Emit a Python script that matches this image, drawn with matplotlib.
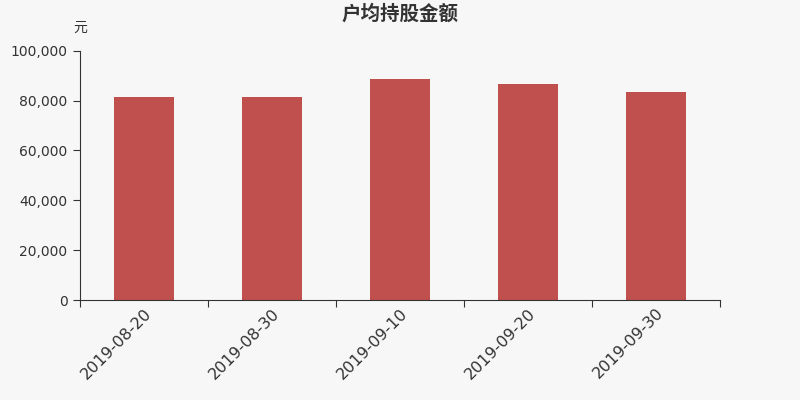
import matplotlib
matplotlib.use('Agg')
import matplotlib.pyplot as plt
import numpy as np
from matplotlib.ticker import FuncFormatter, FixedLocator

plt.rcParams['font.family'] = ['DejaVu Sans', 'Noto Sans CJK SC']
plt.rcParams['axes.unicode_minus'] = False

dates = ['2019-08-20', '2019-08-30', '2019-09-10', '2019-09-20', '2019-09-30']
amount = [81500, 81300, 88500, 86600, 83500]

bg = '#f7f7f7'
bar_color = '#c0504d'
axis_color = '#333333'

fig = plt.figure(figsize=(8, 4), dpi=100, facecolor=bg)
ax = fig.add_axes([0.1, 0.25, 0.8, 0.623])
ax.set_facecolor(bg)

x = np.arange(len(dates))
ax.bar(x, amount, width=0.47, color=bar_color, zorder=2)

ax.set_xlim(-0.5, len(dates) - 0.5)
ax.set_ylim(0, 100000)
ax.set_yticks([0, 20000, 40000, 60000, 80000, 100000])
ax.yaxis.set_major_formatter(FuncFormatter(lambda v, p: '{:,.0f}'.format(v)))

# ticks at category boundaries, labels at centres
ax.xaxis.set_major_locator(FixedLocator(np.arange(-0.5, len(dates), 1.0)))
ax.xaxis.set_minor_locator(FixedLocator(x))
ax.set_xticklabels([], minor=False)
ax.set_xticklabels(dates, minor=True, rotation=45, ha='right', va='top',
                   rotation_mode='anchor', fontsize=11.5, color=axis_color)
ax.tick_params(axis='x', which='minor', length=0, pad=4)
ax.tick_params(axis='x', which='major', length=5, color=axis_color)
ax.tick_params(axis='y', length=5, labelsize=10, color=axis_color,
               labelcolor=axis_color, pad=4)
for lbl in ax.get_xticklabels(minor=True):
    lbl.set_x(lbl.get_position()[0])

for s in ['top', 'right']:
    ax.spines[s].set_visible(False)
for s in ['left', 'bottom']:
    ax.spines[s].set_color(axis_color)

fig.text(0.5, 0.965, '户均持股金额', ha='center', va='center', fontsize=14,
         fontweight='bold', color=axis_color, family=['Noto Sans CJK SC'])
fig.text(0.1, 0.93, '元', ha='center', va='center', fontsize=10,
         color=axis_color, family=['Noto Sans CJK SC'])

fig.savefig('out.png', dpi=100, facecolor=bg)
